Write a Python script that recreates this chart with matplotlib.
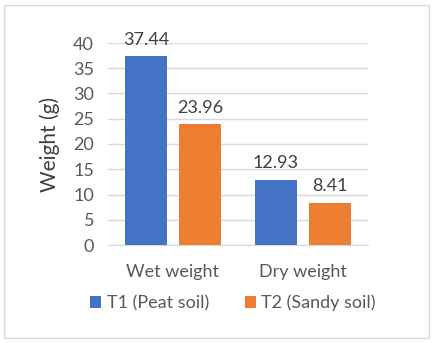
import matplotlib.pyplot as plt
import numpy as np
from matplotlib.patches import Rectangle

categories = ['Wet weight', 'Dry weight']
t1_peat = [37.44, 12.93]
t2_sandy = [23.96, 8.41]
series_names = ['T1 (Peat soil)', 'T2 (Sandy soil)']
yticks = [0, 5, 10, 15, 20, 25, 30, 35, 40]

blue = '#4472C4'
orange = '#ED7D31'
grey = '#595959'

plt.rcParams['font.family'] = ['Lato', 'DejaVu Sans']

W, H = 433, 343
fig = plt.figure(figsize=(W / 100, H / 100), dpi=100)
fig.patches.append(Rectangle((4 / W, 5 / H), 425 / W, 333 / H, transform=fig.transFigure,
                             fill=False, edgecolor='#D9D9D9', linewidth=1))

ax = fig.add_axes([108 / W, 1 - 245 / H, 260 / W, 202 / H])
x = np.arange(len(categories))
bw = 0.323
off = 0.2077
b1 = ax.bar(x - off, t1_peat, bw, color=blue, label=series_names[0], zorder=3)
b2 = ax.bar(x + off, t2_sandy, bw, color=orange, label=series_names[1], zorder=3)

for bars in (b1, b2):
    for r in bars:
        ax.annotate(f'{r.get_height():.2f}', (r.get_x() + r.get_width() / 2, r.get_height()),
                    xytext=(0, 6), textcoords='offset points', ha='center', va='bottom',
                    fontsize=13, color='#404040', annotation_clip=False)

ax.set_xlim(-0.5, 1.5)
ax.set_ylim(0, 40)
ax.set_yticks(yticks)
ax.set_xticks(x)
ax.set_xticklabels(categories)
ax.grid(axis='y', color='#D9D9D9', linewidth=1, zorder=0)
for s in ['top', 'right', 'left']:
    ax.spines[s].set_visible(False)
ax.spines['bottom'].set_color('#D9D9D9')
ax.tick_params(axis='both', length=0, labelsize=13, colors=grey)
ax.tick_params(axis='y', pad=10)
ax.tick_params(axis='x', pad=14)
ax.set_ylabel('Weight (g)', fontsize=15, color='#404040')
ax.yaxis.set_label_coords(-0.185, 0.5)

fig.legend(handles=[b1, b2], loc='center', bbox_to_anchor=(233 / W, 1 - 303 / H), ncol=2,
           frameon=False, fontsize=13, labelcolor=grey, handlelength=0.6, handleheight=0.6,
           handletextpad=0.3, columnspacing=2.0)

fig.savefig('out.png', dpi=100)
